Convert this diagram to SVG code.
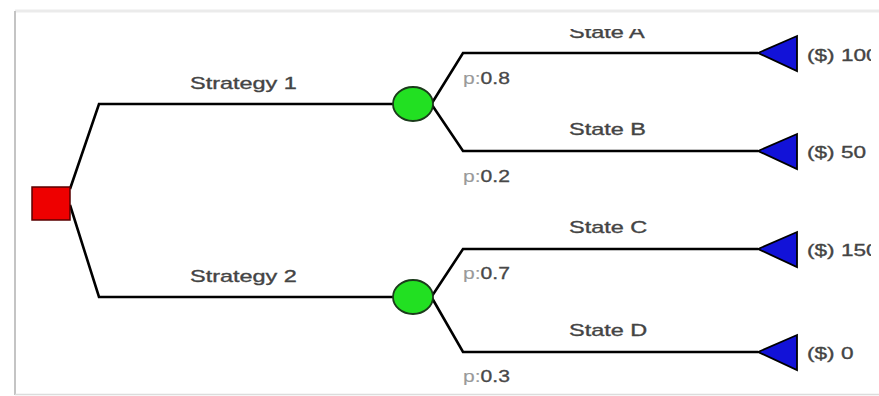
<svg xmlns="http://www.w3.org/2000/svg" width="879" height="396" viewBox="0 0 879 396">
  <defs>
    <style>
      .edge { fill: none; stroke: #000; stroke-width: 2.6; stroke-linejoin: miter; }
      .lbl { font-family: "Liberation Sans", Arial, sans-serif; font-size: 17px; fill: #444444; stroke: #444444; stroke-width: 0.35; }
      .prob { font-family: "Liberation Sans", Arial, sans-serif; font-size: 16px; fill: #484848; stroke: #484848; stroke-width: 0.3; }
      .pfx { fill: #9a9a9a; stroke: #9a9a9a; stroke-width: 0.1; }
      .chance { fill: #22e022; stroke: #1b3b1b; stroke-width: 1.8; }
      .term { fill: #1212d8; stroke: #000; stroke-width: 1.8; stroke-linejoin: miter; }
      .decision { fill: #ee0000; stroke: #5a0000; stroke-width: 1.5; }
    </style>
    <clipPath id="view">
      <rect x="0" y="29" width="871" height="367"/>
    </clipPath>
  </defs>

  <rect x="0" y="0" width="879" height="396" fill="#ffffff"/>

  <!-- frame -->
  <g id="frame">
    <line x1="15" y1="11" x2="879" y2="11" stroke="#ebebeb" stroke-width="3"/>
    <line x1="15" y1="11" x2="15" y2="395" stroke="#c4c4c4" stroke-width="2"/>
    <line x1="15" y1="394.5" x2="879" y2="394.5" stroke="#dcdcdc" stroke-width="1.5"/>
  </g>

  <g clip-path="url(#view)">
    <!-- connectors -->
    <g id="connectors">
      <polyline class="edge" points="70,189 99,104 393,104"/>
      <polyline class="edge" points="70,205 99,297 393,297"/>
      <polyline class="edge" points="432,103 463,53 758,53"/>
      <polyline class="edge" points="432,105 463,151 758,151"/>
      <polyline class="edge" points="432,296 463,249 758,249"/>
      <polyline class="edge" points="432,298 463,352 758,352"/>
    </g>

    <!-- branch labels -->
    <g id="labels">
      <text class="lbl" transform="translate(190,89) scale(1.38,1)">Strategy 1</text>
      <text class="lbl" transform="translate(190,282) scale(1.38,1)">Strategy 2</text>
      <text class="lbl" transform="translate(569,38) scale(1.38,1)">State A</text>
      <text class="lbl" transform="translate(569,135) scale(1.38,1)">State B</text>
      <text class="lbl" transform="translate(569,233) scale(1.38,1)">State C</text>
      <text class="lbl" transform="translate(569,336) scale(1.38,1)">State D</text>
      <text class="prob" transform="translate(463,84) scale(1.32,1)"><tspan class="pfx">p:</tspan>0.8</text>
      <text class="prob" transform="translate(463,182) scale(1.32,1)"><tspan class="pfx">p:</tspan>0.2</text>
      <text class="prob" transform="translate(463,279) scale(1.32,1)"><tspan class="pfx">p:</tspan>0.7</text>
      <text class="prob" transform="translate(463,382) scale(1.32,1)"><tspan class="pfx">p:</tspan>0.3</text>
    </g>

    <!-- decision node -->
    <g id="decision">
      <rect class="decision" x="32" y="187" width="38" height="33"/>
    </g>

    <!-- chance nodes -->
    <g id="chance1">
      <ellipse class="chance" cx="413" cy="104" rx="20" ry="17"/>
    </g>
    <g id="chance2">
      <ellipse class="chance" cx="413" cy="297" rx="20" ry="17"/>
    </g>

    <!-- terminal nodes -->
    <g id="terminalA">
      <polygon class="term" points="758,53 797,36 797,71"/>
      <text class="lbl" transform="translate(807,61) scale(1.33,1)">($) 100</text>
    </g>
    <g id="terminalB">
      <polygon class="term" points="758,151 797,134 797,169"/>
      <text class="lbl" transform="translate(807,158) scale(1.33,1)">($) 50</text>
    </g>
    <g id="terminalC">
      <polygon class="term" points="758,249 797,232 797,267"/>
      <text class="lbl" transform="translate(807,256) scale(1.33,1)">($) 150</text>
    </g>
    <g id="terminalD">
      <polygon class="term" points="758,352 797,335 797,370"/>
      <text class="lbl" transform="translate(807,359) scale(1.33,1)">($) 0</text>
    </g>
  </g>
</svg>
